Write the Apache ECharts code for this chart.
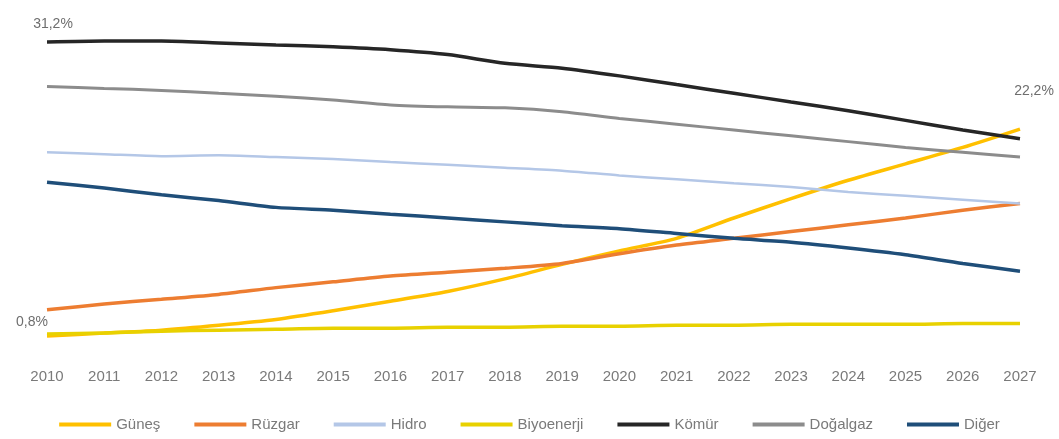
<!DOCTYPE html>
<html><head><meta charset="utf-8">
<script src="https://cdn.jsdelivr.net/npm/echarts@6/dist/echarts.min.js"></script>
<style>html,body{margin:0;padding:0;background:#fff}#c{width:1059px;height:439px}</style>
</head><body><div id="c"></div>
<script>
var years = ['2010','2011','2012','2013','2014','2015','2016','2017','2018','2019','2020','2021','2022','2023','2024','2025','2026','2027'];
var gunes =      [0.8,1.1,1.4,1.9,2.5,3.4,4.4,5.4,6.7,8.2,9.6,10.9,13.0,15.0,16.9,18.6,20.3,22.2];
var ruzgar =     [3.5,4.1,4.6,5.1,5.8,6.4,7.0,7.4,7.8,8.3,9.3,10.2,10.9,11.6,12.3,13.0,13.8,14.5];
var hidro =      [19.8,19.6,19.4,19.5,19.3,19.1,18.8,18.5,18.2,17.9,17.4,17.0,16.6,16.2,15.7,15.3,14.9,14.5];
var biyoenerji = [1.0,1.1,1.3,1.4,1.5,1.6,1.6,1.7,1.7,1.8,1.8,1.9,1.9,2.0,2.0,2.0,2.1,2.1];
var komur =      [31.2,31.3,31.3,31.1,30.9,30.7,30.4,29.9,29.0,28.5,27.7,26.8,25.9,25.0,24.1,23.1,22.1,21.2];
var dogalgaz =   [26.6,26.4,26.2,25.9,25.6,25.2,24.7,24.5,24.4,24.0,23.3,22.7,22.1,21.5,20.9,20.3,19.8,19.3];
var diger =      [16.7,16.1,15.4,14.8,14.1,13.8,13.4,13.0,12.6,12.2,11.9,11.4,10.9,10.5,9.9,9.2,8.3,7.5];

var font = 'Liberation Sans';
var lblStyle = {color:'#6e6e6e', fontSize:14, fontFamily:font};
function withLabels(arr, marks){
  return arr.map(function(v,i){
    if(marks[i]) return {value:v, label:Object.assign({show:true, formatter:function(p){return p.value.toFixed(1).replace('.',',')+'%';}}, lblStyle, marks[i])};
    return v;
  });
}
function mk(name, data, color, width){
  return {name:name, type:'line', data:data, symbol:'circle', symbolSize:0.1, showSymbol:true, smooth:0.25,
    lineStyle:{color:color, width:width}, itemStyle:{color:color}, emphasis:{disabled:true}};
}
var chart = echarts.init(document.getElementById('c'), null, {renderer:'canvas'});
chart.setOption({
  animation:false,
  grid:{left:47, right:39, top:34.3, bottom:95.3},
  xAxis:{type:'category', data:years, boundaryGap:false,
    axisLine:{show:false}, axisTick:{show:false},
    axisLabel:{color:'#7a7a7a', fontSize:15, fontFamily:font, margin:26, interval:0}},
  yAxis:{type:'value', min:0, max:32, show:false, splitLine:{show:false}},
  legend:{bottom:2, left:'center', itemWidth:52, itemHeight:4, itemGap:34, icon:'rect',
    textStyle:{color:'#7a7a7a', fontSize:15, fontFamily:font}},
  series:[
    mk('Güneş', withLabels(gunes, {0:{position:'left', offset:[6,-14]}, 17:{position:'top', offset:[14,-26]}}), '#FFC000', 3.5),
    mk('Rüzgar', ruzgar, '#ED7D31', 3.5),
    mk('Hidro', hidro, '#B4C7E7', 2.5),
    mk('Biyoenerji', biyoenerji, '#E8D100', 3.5),
    mk('Kömür', withLabels(komur, {0:{position:'top', offset:[6,-6]}}), '#262626', 3.5),
    mk('Doğalgaz', dogalgaz, '#8C8C8C', 3),
    mk('Diğer', diger, '#1F4E79', 3.5)
  ]
});
</script></body></html>
